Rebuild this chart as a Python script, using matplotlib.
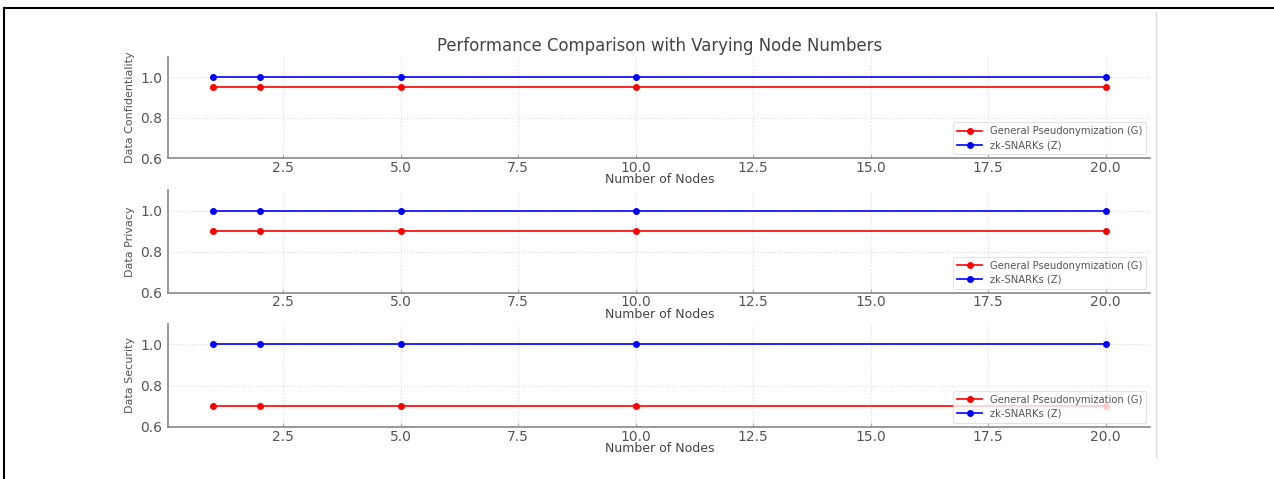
import matplotlib.pyplot as plt
from matplotlib.lines import Line2D

nodes = [1, 2, 5, 10, 20]
metrics = ["Data Confidentiality", "Data Privacy", "Data Security"]
general_vals = {
    "Data Confidentiality": [0.95, 0.95, 0.95, 0.95, 0.95],
    "Data Privacy": [0.9, 0.9, 0.9, 0.9, 0.9],
    "Data Security": [0.7, 0.7, 0.7, 0.7, 0.7],
}
zk_vals = {
    "Data Confidentiality": [1.0, 1.0, 1.0, 1.0, 1.0],
    "Data Privacy": [1.0, 1.0, 1.0, 1.0, 1.0],
    "Data Security": [1.0, 1.0, 1.0, 1.0, 1.0],
}

fig = plt.figure(figsize=(12.74, 4.79), dpi=100)

# axes boxes: [left, bottom, width, height]
boxes = [
    [0.132, 0.670, 0.771, 0.211],
    [0.132, 0.389, 0.771, 0.214],
    [0.132, 0.109, 0.771, 0.215],
]

for i, metric in enumerate(metrics):
    ax = fig.add_axes(boxes[i])
    ax.plot(nodes, general_vals[metric], color="red", marker="o", markersize=4,
            linewidth=1.2, label="General Pseudonymization (G)")
    ax.plot(nodes, zk_vals[metric], color="blue", marker="o", markersize=4,
            linewidth=1.2, label="zk-SNARKs (Z)")
    ax.set_ylim(0.6, 1.1)
    ax.set_yticks([0.6, 0.8, 1.0])
    ax.set_xticks([2.5, 5.0, 7.5, 10.0, 12.5, 15.0, 17.5, 20.0])
    ax.set_xlim(0.05, 20.95)
    ax.grid(True, color="#dddddd", linestyle=":", linewidth=0.8)
    for s in ["top", "right"]:
        ax.spines[s].set_visible(False)
    for s in ["left", "bottom"]:
        ax.spines[s].set_color("#888888")
        ax.spines[s].set_linewidth(1.2)
    ax.tick_params(axis="x", direction="in", length=3, color="#aaaaaa",
                   labelsize=10, labelcolor="#555555", pad=2)
    ax.tick_params(axis="y", length=0, labelsize=10, labelcolor="#555555", pad=4)
    ax.set_ylabel(metric, fontsize=8, color="#555555")
    ax.set_xlabel("Number of Nodes", fontsize=9, color="#444444", labelpad=-1)
    leg = ax.legend(loc="lower right", fontsize=7.2, frameon=True, borderaxespad=0.4,
                    handlelength=2.5, labelspacing=0.4)
    leg.get_frame().set_edgecolor("#dddddd")
    leg.get_frame().set_linewidth(0.8)
    for t in leg.get_texts():
        t.set_color("#555555")
    if i == 0:
        ax.set_title("Performance Comparison with Varying Node Numbers",
                     fontsize=11.9, color="#444444", pad=4)

# page frame lines from the surrounding document
fig.add_artist(Line2D([0.003, 1.0], [0.983, 0.983], color="black", linewidth=1.5))
fig.add_artist(Line2D([0.003, 0.003], [0.0, 0.983], color="black", linewidth=1.5))
fig.add_artist(Line2D([0.9075, 0.9075], [0.044, 0.975], color="#dddddd", linewidth=1.0))

fig.savefig("out.png", dpi=100)
